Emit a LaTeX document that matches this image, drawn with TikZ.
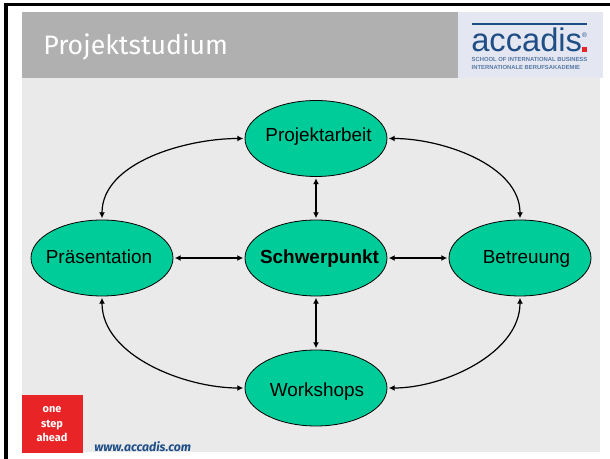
\documentclass[tikz,border=0pt]{standalone}
\usepackage{fontspec}
\setmainfont{Liberation Sans}
\newfontfamily\headfont{Fira Sans}
\usetikzlibrary{shapes.geometric,arrows.meta}
\definecolor{blobgreen}{HTML}{00CC99}
\definecolor{pagegrey}{HTML}{EAEAEA}
\definecolor{headgrey}{HTML}{B0B0B0}
\definecolor{logoback}{HTML}{E4E6F2}
\definecolor{logoblue}{HTML}{1F4E86}
\definecolor{stepred}{HTML}{E92427}
% Text in der Ellipse: dx, dy (Grundlinie) in pt
\newcommand{\blobtext}[3]{\smash{\makebox[0pt]{\hspace*{#1pt}\hspace*{#1pt}\raisebox{#2pt}{#3}}}}
\tikzset{
	blob/.style={ellipse,draw=black,fill=blobgreen,line width=0.6pt,minimum width=106.5pt,minimum height=57pt,inner sep=0pt,font=\fontsize{14.2}{16}\selectfont},
	link/.style={{Latex[length=4.5pt,width=4.5pt]}-{Latex[length=4.5pt,width=4.5pt]},line width=0.9pt,shorten >=1pt,shorten <=1pt}
}
\begin{document}
\begin{tikzpicture}[x=0.75pt,y=-0.75pt]
	
	% Seite und Rahmen
	\useasboundingbox (0,0) rectangle (610,459);
	\fill[white] (0,0) rectangle (610,459);
	\fill[pagegrey] (22,78) rectangle (600,452);
	\fill[headgrey] (22,12) rectangle (458,78);
	\fill[logoback] (458,12) rectangle (603,78);
	\draw[line width=2.4pt] (6,459) -- (6,4.5) -- (610,4.5);
	
	% Kopf
	\node[anchor=west,text=white,font=\headfont\fontsize{20}{24}\selectfont,inner sep=0pt] (title) at (43,47) {Projektstudium};
	\node[anchor=base west,text=logoblue,text depth=0pt,font=\fontsize{24.5}{25}\selectfont,inner sep=0pt] (logoname) at (471,52) {accadis};
	\node[text=logoblue!75,font=\bfseries\fontsize{4.4}{6}\selectfont,inner sep=0pt,align=left] (logotext) at (529.5,63.5) {SCHOOL OF INTERNATIONAL BUSINESS\\INTERNATIONALE BERUFSAKADEMIE};
	\node[text=logoblue,font=\fontsize{5}{5}\selectfont,inner sep=0pt] (logomark) at (584.5,35) {®};
	\draw[logoblue,line width=1pt] (472,24) -- (587,24);
	\fill[stepred] (582,47) rectangle (587,52);
	
	% Ellipsen
	\node[blob] (arbeit) at (316,138.5) {\blobtext{1.9}{-2.4}{Projektarbeit}};
	\node[blob] (praesentation) at (102,258) {\blobtext{-2.25}{-4.5}{Präsentation}};
	\node[blob,font=\bfseries\fontsize{14.2}{16}\selectfont] (schwerpunkt) at (316,258) {\blobtext{2.6}{-4.5}{Schwerpunkt}};
	\node[blob] (betreuung) at (520,258) {\blobtext{4.9}{-4.5}{Betreuung}};
	\node[blob] (workshops) at (316,388) {\blobtext{0.75}{-6.5}{Workshops}};
	
	% Pfeile
	\draw[link] (schwerpunkt) -- (arbeit);
	\draw[link] (schwerpunkt) -- (workshops);
	\draw[link] (schwerpunkt) -- (praesentation);
	\draw[link] (schwerpunkt) -- (betreuung);
	\draw[link] (arbeit.west) to[out=180,in=90,looseness=0.9] (praesentation.north);
	\draw[link] (arbeit.east) to[out=0,in=90,looseness=0.9] (betreuung.north);
	\draw[link] (workshops.west) to[out=180,in=-90,looseness=0.9] (praesentation.south);
	\draw[link] (workshops.east) to[out=0,in=-90,looseness=0.9] (betreuung.south);
	
	% Fuss
	\fill[stepred] (22,395) rectangle (83,453);
	\node[text=white,font=\headfont\bfseries\fontsize{8.2}{10.9}\selectfont,align=center,inner sep=0pt] (claim) at (52,424.5) {one\\step\\ahead};
	\node[anchor=west,text=logoblue,font=\headfont\bfseries\itshape\fontsize{9.2}{11}\selectfont,inner sep=0pt] (web) at (94,447) {www.accadis.com};
	
\end{tikzpicture}
\end{document}
